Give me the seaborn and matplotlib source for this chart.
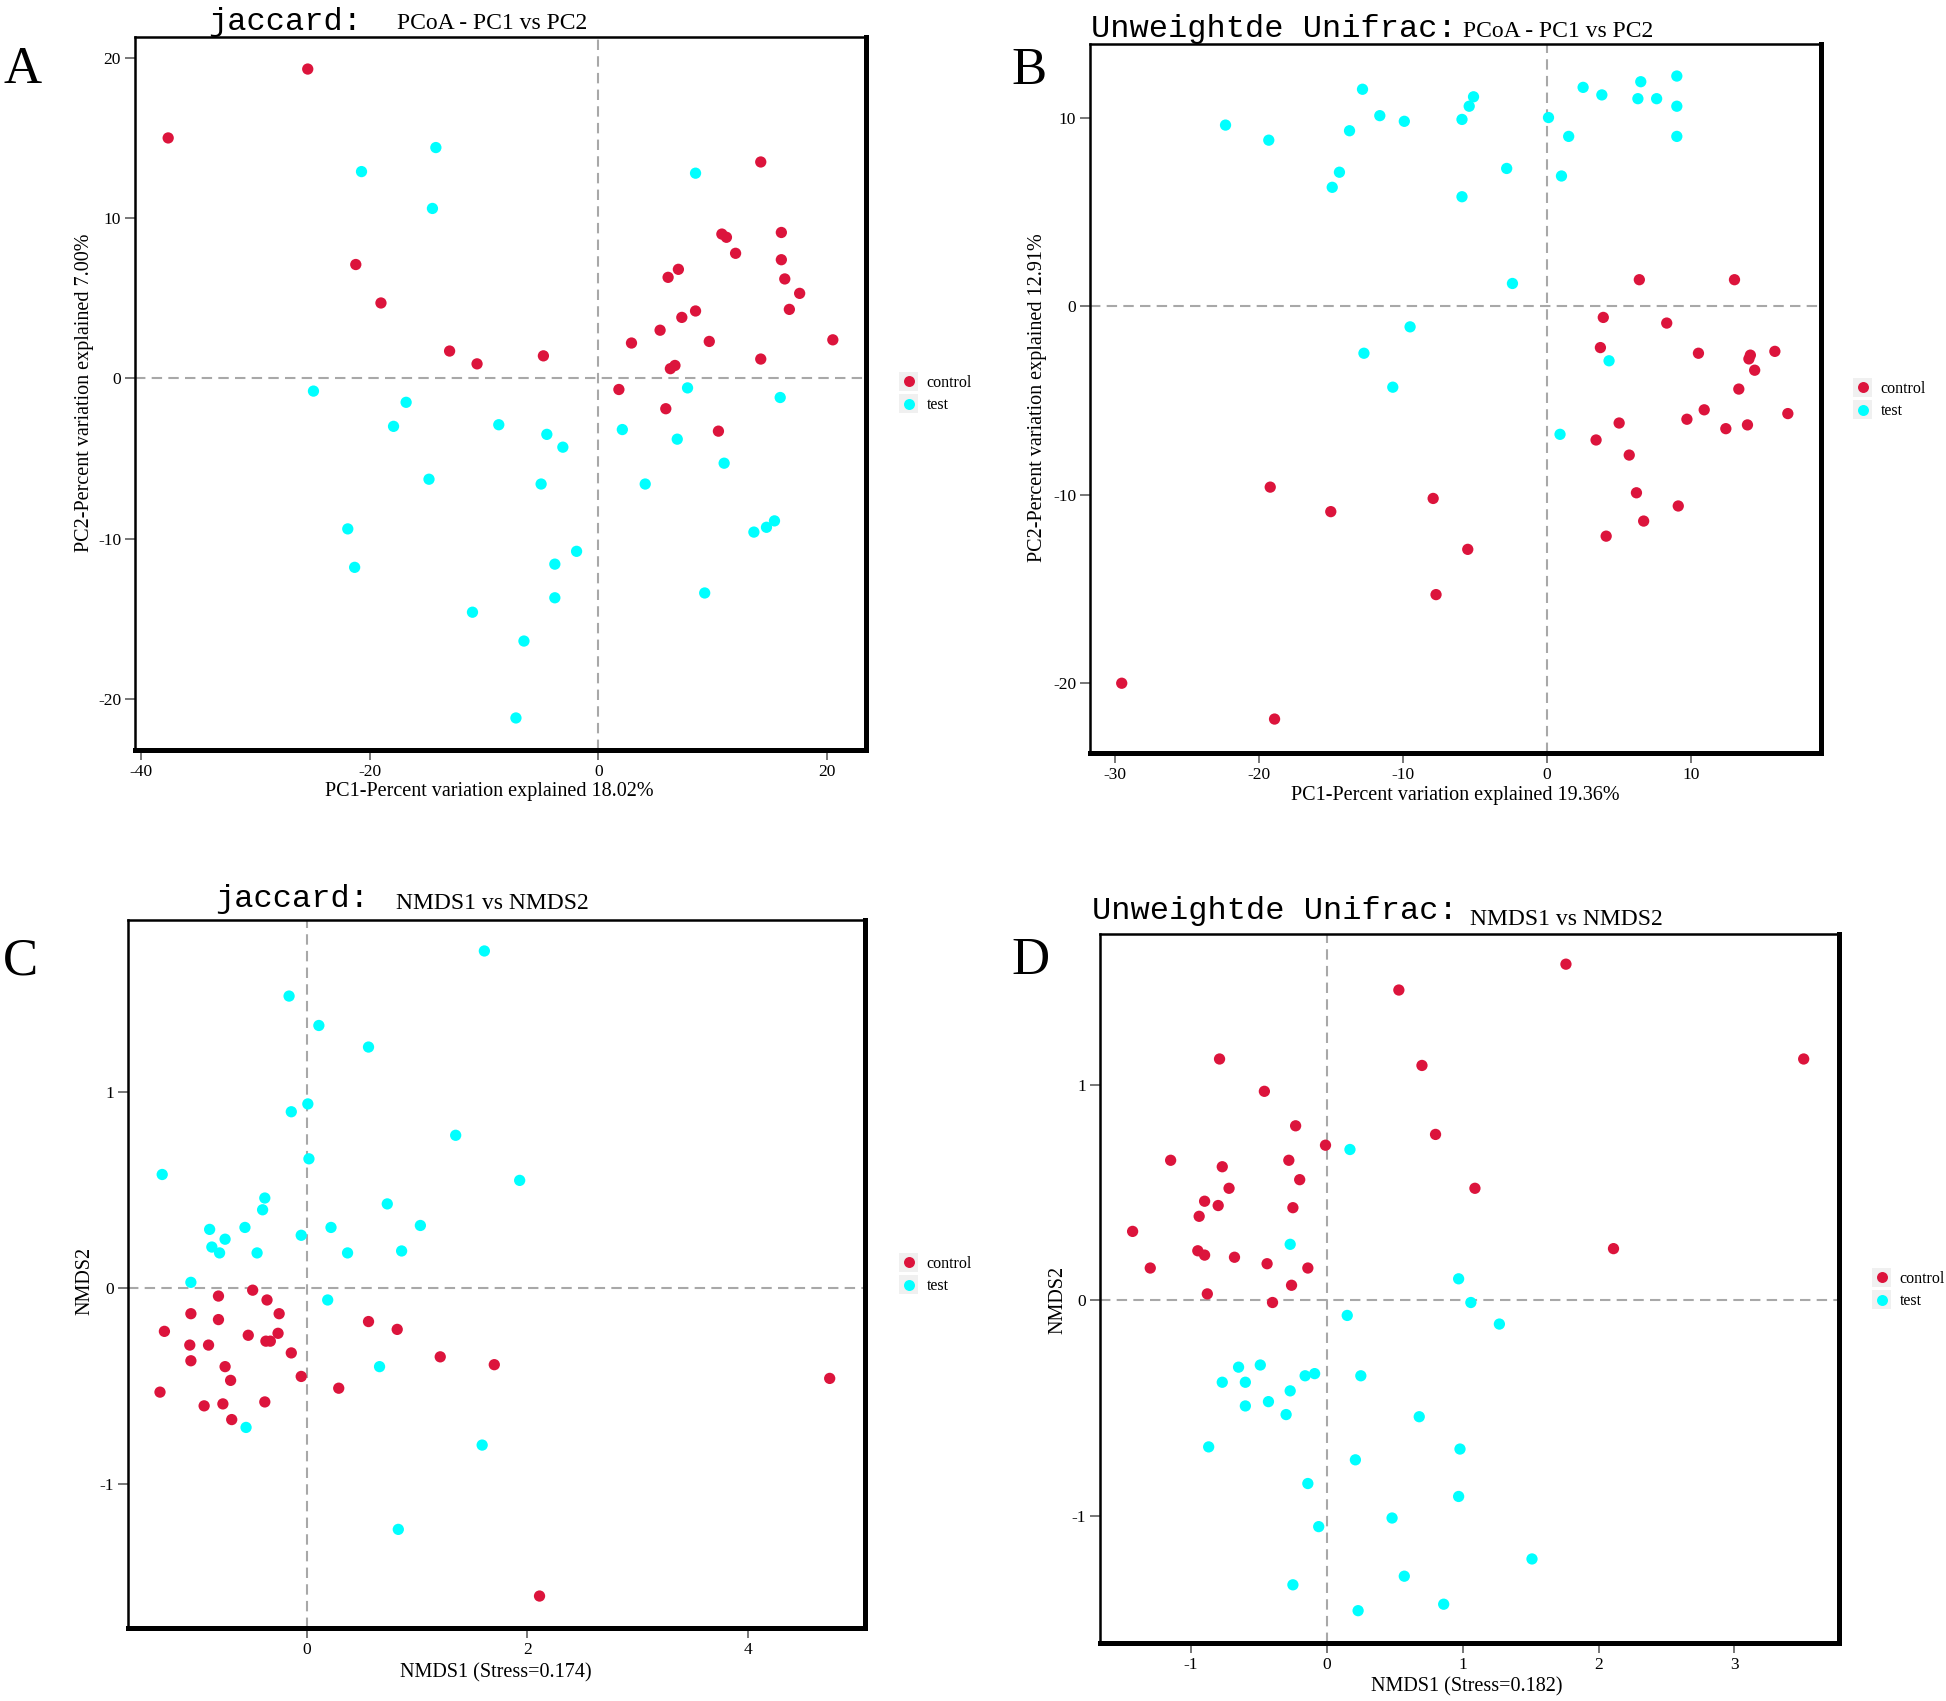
import matplotlib
matplotlib.use("Agg")
import matplotlib.pyplot as plt
import seaborn as sns
import pandas as pd
from matplotlib.legend_handler import HandlerBase
from matplotlib.patches import Rectangle
from matplotlib.lines import Line2D

# ---------------- data ----------------
groups = ["control", "test"]
colors = {"control": "#DC143C", "test": "#00FFFF"}

# Panel A: jaccard PCoA
A_ctrl_x = [-37.6, -25.4, -21.2, -19.0, -13.0, -10.6, -4.8, 1.8, 2.9, 5.4, 5.9, 6.1, 7.0, 6.3, 6.7,
            7.3, 8.5, 9.7, 10.5, 10.8, 11.2, 12.0, 14.2, 14.2, 16.0, 16.0, 16.3, 16.7, 17.6, 20.5]
A_ctrl_y = [15.0, 19.3, 7.1, 4.7, 1.7, 0.9, 1.4, -0.7, 2.2, 3.0, -1.9, 6.3, 6.8, 0.6, 0.8,
            3.8, 4.2, 2.3, -3.3, 9.0, 8.8, 7.8, 1.2, 13.5, 9.1, 7.4, 6.2, 4.3, 5.3, 2.4]
A_test_x = [-20.7, -14.2, -14.5, 8.5, -24.9, -16.8, -17.9, -8.7, -4.5, -3.1, -14.8, -5.0, 2.1, 7.8, 6.9,
            15.9, 11.0, 4.1, -21.9, -21.3, -1.9, -3.8, -3.8, -11.0, -6.5, 9.3, 13.6, 14.7, 15.4, -7.2]
A_test_y = [12.9, 14.4, 10.6, 12.8, -0.8, -1.5, -3.0, -2.9, -3.5, -4.3, -6.3, -6.6, -3.2, -0.6, -3.8,
            -1.2, -5.3, -6.6, -9.4, -11.8, -10.8, -11.6, -13.7, -14.6, -16.4, -13.4, -9.6, -9.3, -8.9, -21.2]

# Panel B: unweighted unifrac PCoA
B_ctrl_x = [-29.5, -18.9, -19.2, -15.0, -7.9, -5.5, -7.7, 6.4, 13.0, 3.9, 8.3, 3.7, 10.5, 14.1, 14.0,
            14.4, 15.8, 13.3, 10.9, 9.7, 5.0, 3.4, 12.4, 13.9, 16.7, 5.7, 6.2, 9.1, 6.7, 4.1]
B_ctrl_y = [-20.0, -21.9, -9.6, -10.9, -10.2, -12.9, -15.3, 1.4, 1.4, -0.6, -0.9, -2.2, -2.5, -2.6, -2.8,
            -3.4, -2.4, -4.4, -5.5, -6.0, -6.2, -7.1, -6.5, -6.3, -5.7, -7.9, -9.9, -10.6, -11.4, -12.2]
B_test_x = [-22.3, -19.3, -12.8, -11.6, -13.7, -9.9, -14.4, -14.9, -5.9, -5.4, -5.1, -5.9, -2.8, -2.4, 0.1,
            1.5, 1.0, 2.5, 3.8, 6.5, 6.3, 7.6, 9.0, 9.0, 9.0, -9.5, -12.7, -10.7, 4.3, 0.9]
B_test_y = [9.6, 8.8, 11.5, 10.1, 9.3, 9.8, 7.1, 6.3, 9.9, 10.6, 11.1, 5.8, 7.3, 1.2, 10.0,
            9.0, 6.9, 11.6, 11.2, 11.9, 11.0, 11.0, 12.2, 10.6, 9.0, -1.1, -2.5, -4.3, -2.9, -6.8]

# Panel C: jaccard NMDS
C_ctrl_x = [-0.49, -0.80, -0.36, -1.05, -0.25, -0.80, -1.29, -0.53, -0.26, -1.06, -0.89, -0.37, -0.33, -0.14, -1.05,
            -0.74, -0.69, -0.05, -1.33, 0.29, -0.93, -0.76, -0.38, -0.68, 0.56, 0.82, 1.21, 1.70, 4.74, 2.11]
C_ctrl_y = [-0.01, -0.04, -0.06, -0.13, -0.13, -0.16, -0.22, -0.24, -0.23, -0.29, -0.29, -0.27, -0.27, -0.33, -0.37,
            -0.40, -0.47, -0.45, -0.53, -0.51, -0.60, -0.59, -0.58, -0.67, -0.17, -0.21, -0.35, -0.39, -0.46, -1.57]
C_test_x = [1.61, -0.16, 0.11, 0.56, 0.01, -0.14, 1.35, 0.02, -1.31, 1.93, -0.38, -0.40, 0.73, -0.88, -0.56,
            0.22, 1.03, -0.74, -0.05, -0.86, -0.79, -0.45, 0.37, 0.86, -1.05, 0.19, 0.66, -0.55, 1.59, 0.83]
C_test_y = [1.72, 1.49, 1.34, 1.23, 0.94, 0.90, 0.78, 0.66, 0.58, 0.55, 0.46, 0.40, 0.43, 0.30, 0.31,
            0.31, 0.32, 0.25, 0.27, 0.21, 0.18, 0.18, 0.18, 0.19, 0.03, -0.06, -0.40, -0.71, -0.80, -1.23]

# Panel D: unweighted unifrac NMDS
D_ctrl_x = [1.76, 0.53, -0.79, 0.70, 3.51, -0.46, -0.23, 0.80, -0.01, -1.15, -0.28, -0.77, -0.20, -0.72, 1.09,
            -0.90, -0.80, -0.25, -0.94, -1.43, 2.11, -0.95, -0.90, -0.68, -0.44, -0.14, -1.30, -0.26, -0.88, -0.40]
D_ctrl_y = [1.56, 1.44, 1.12, 1.09, 1.12, 0.97, 0.81, 0.77, 0.72, 0.65, 0.65, 0.62, 0.56, 0.52, 0.52,
            0.46, 0.44, 0.43, 0.39, 0.32, 0.24, 0.23, 0.21, 0.20, 0.17, 0.15, 0.15, 0.07, 0.03, -0.01]
D_test_x = [0.17, -0.27, 0.97, 1.06, 1.27, 0.15, -0.65, -0.49, -0.77, -0.60, -0.16, -0.09, 0.25, -0.27, -0.43,
            -0.60, -0.30, 0.68, -0.87, 0.98, 0.21, -0.14, 0.97, 0.48, -0.06, 1.51, 0.57, -0.25, 0.86, 0.23]
D_test_y = [0.70, 0.26, 0.10, -0.01, -0.11, -0.07, -0.31, -0.30, -0.38, -0.38, -0.35, -0.34, -0.35, -0.42, -0.47,
            -0.49, -0.53, -0.54, -0.68, -0.69, -0.74, -0.85, -0.91, -1.01, -1.05, -1.20, -1.28, -1.32, -1.41, -1.44]

# tick values
A_xticks = [-40, -20, 0, 20]
A_yticks = [-20, -10, 0, 10, 20]
B_xticks = [-30, -20, -10, 0, 10]
B_yticks = [-20, -10, 0, 10]
C_xticks = [0, 2, 4]
C_yticks = [-1, 0, 1]
D_xticks = [-1, 0, 1, 2, 3]
D_yticks = [-1, 0, 1]

# ---------------- style ----------------
plt.rcParams["font.family"] = ["Liberation Serif", "DejaVu Serif"]
plt.rcParams["lines.scale_dashes"] = False

W, H = 1946, 1701
fig = plt.figure(figsize=(W / 100, H / 100), dpi=100)
fig.patch.set_facecolor("white")


class KeyHandler(HandlerBase):
    def create_artists(self, legend, orig_handle, xdescent, ydescent, width, height, fontsize, trans):
        side = min(width, height)
        x0 = -xdescent + (width - side) / 2
        y0 = -ydescent + (height - side) / 2
        rect = Rectangle((x0, y0), side, side, facecolor="#f0f0f0", edgecolor="none", transform=trans)
        dot = Line2D([x0 + side / 2], [y0 + side / 2], marker="o", linestyle="none",
                     markersize=orig_handle.get_markersize(),
                     markerfacecolor=orig_handle.get_markerfacecolor(),
                     markeredgewidth=0, transform=trans)
        return [rect, dot]


def make_df(cx, cy, tx, ty):
    return pd.DataFrame({
        "x": cx + tx,
        "y": cy + ty,
        "group": [groups[0]] * len(cx) + [groups[1]] * len(tx),
    })


def panel(box, df, xlim, ylim, xticks, yticks, xlabel, ylabel, xlab_pos, ylab_pos, leg_pos):
    l, t, r, b = box
    ax = fig.add_axes([l / W, 1 - b / H, (r - l) / W, (b - t) / H])
    ax.axhline(0, color="#a8a8a8", lw=1.5, dashes=(7.5, 4.5), zorder=1)
    ax.axvline(0, color="#a8a8a8", lw=1.5, dashes=(7.5, 4.5), zorder=1)
    sns.scatterplot(data=df, x="x", y="y", hue="group", palette=colors, hue_order=groups,
                    s=66, linewidth=0, legend=False, ax=ax, zorder=3)
    ax.set_xlim(*xlim)
    ax.set_ylim(*ylim)
    ax.set_xticks(xticks)
    ax.set_yticks(yticks)
    ax.set_xticklabels([str(v) for v in xticks])
    ax.set_yticklabels([str(v) for v in yticks])
    ax.tick_params(axis="both", direction="out", length=7, width=1.4, color="#777777",
                   labelsize=12.5, labelcolor="black", pad=3)
    for side in ["top", "left"]:
        ax.spines[side].set_linewidth(1.8)
    for side in ["bottom", "right"]:
        ax.spines[side].set_linewidth(3.6)
    for sp in ax.spines.values():
        sp.set_color("black")
        sp.set_zorder(5)
    ax.set_xlabel(xlabel, fontsize=14.5)
    ax.set_ylabel(ylabel, fontsize=14.5)
    ax.xaxis.set_label_coords((xlab_pos[0] - l) / (r - l), (b - xlab_pos[1]) / (b - t))
    ax.yaxis.set_label_coords((ylab_pos[0] - l) / (r - l), (b - ylab_pos[1]) / (b - t))
    handles = [Line2D([], [], marker="o", linestyle="none", markersize=7.9,
                      markerfacecolor=colors[g], markeredgewidth=0) for g in groups]
    ax.legend(handles, groups, loc="upper left", bbox_to_anchor=(leg_pos[0] / W, 1 - leg_pos[1] / H),
              bbox_transform=fig.transFigure, frameon=False, borderpad=0, borderaxespad=0,
              handlelength=1.44, handleheight=1.44, handletextpad=0.4, labelspacing=0.22,
              fontsize=11.5, handler_map={Line2D: KeyHandler()})
    ax.set_facecolor("white")
    return ax


def ftext(x, y, s, **kw):
    fig.text(x / W, 1 - y / H, s, ha="left", va="baseline", **kw)


# Panel A
panel((135, 37, 866, 750), make_df(A_ctrl_x, A_ctrl_y, A_test_x, A_test_y),
      (-40.5, 23.4), (-23.2, 21.3), A_xticks, A_yticks,
      "PC1-Percent variation explained 18.02%", "PC2-Percent variation explained 7.00%",
      (489, 782), (94, 393), (897, 372))
# Panel B
panel((1090, 44, 1821, 753), make_df(B_ctrl_x, B_ctrl_y, B_test_x, B_test_y),
      (-31.7, 19.0), (-23.7, 13.9), B_xticks, B_yticks,
      "PC1-Percent variation explained 19.36%", "PC2-Percent variation explained 12.91%",
      (1455, 786), (1047, 398), (1851, 378))
# Panel C
panel((128, 920, 865, 1628), make_df(C_ctrl_x, C_ctrl_y, C_test_x, C_test_y),
      (-1.62, 5.06), (-1.733, 1.878), C_xticks, C_yticks,
      "NMDS1 (Stress=0.174)", "NMDS2",
      (496, 1663), (94, 1281), (897, 1253))
# Panel D
panel((1100, 934, 1839, 1643), make_df(D_ctrl_x, D_ctrl_y, D_test_x, D_test_y),
      (-1.67, 3.77), (-1.59, 1.70), D_xticks, D_yticks,
      "NMDS1 (Stress=0.182)", "NMDS2",
      (1467, 1677), (1067, 1300), (1870, 1268))

# titles
mono = dict(family=["Liberation Mono", "DejaVu Sans Mono"], fontsize=23)
serif = dict(family=["Liberation Serif", "DejaVu Serif"], fontsize=17)
ftext(208, 30, "jaccard:", **mono)
ftext(397, 29, "PCoA - PC1 vs PC2", **serif)
ftext(1091, 37, "Unweightde Unifrac:", **mono)
ftext(1463, 37, "PCoA - PC1 vs PC2", **serif)
ftext(215, 907, "jaccard:", **mono)
ftext(396, 909, "NMDS1 vs NMDS2", **serif)
ftext(1092, 919, "Unweightde Unifrac:", **mono)
ftext(1470, 925, "NMDS1 vs NMDS2", **serif)

# panel letters
letter = dict(family=["Liberation Serif", "DejaVu Serif"], fontsize=38)
ftext(3, 83, "A", **letter)
ftext(1011, 84, "B", **letter)
ftext(3, 974, "C", **letter)
ftext(1011, 974, "D", **letter)

fig.savefig("out.png", dpi=100, facecolor="white")
